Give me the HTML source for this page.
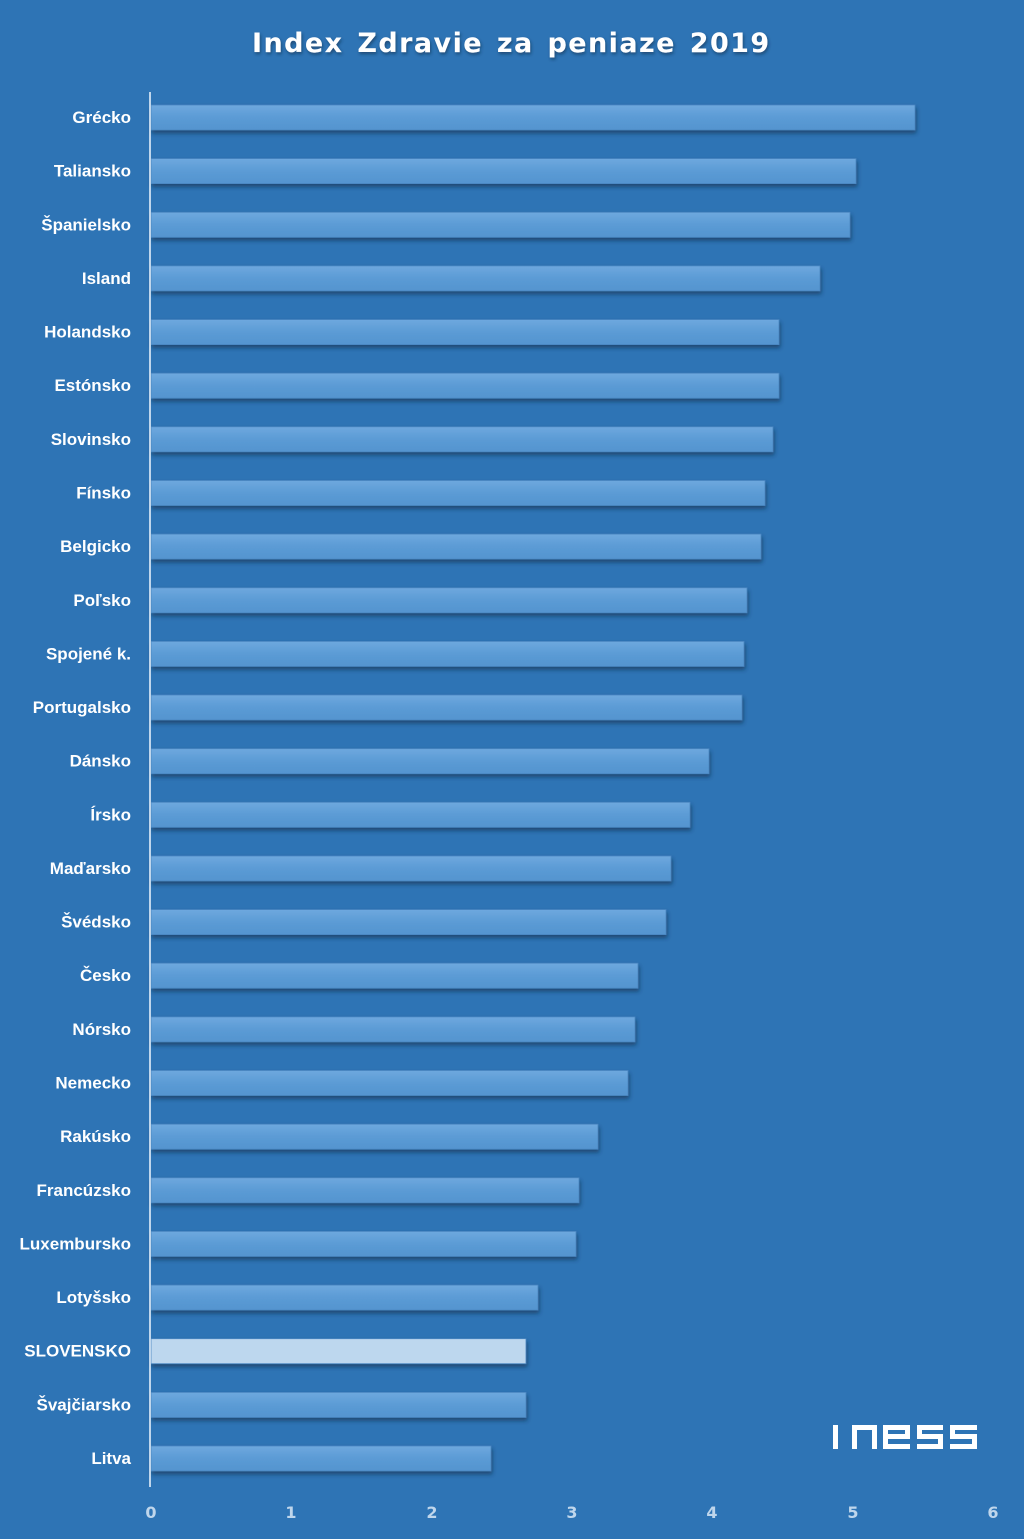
<!DOCTYPE html>
<html><head><meta charset="utf-8"><style>
html,body{margin:0;padding:0;background:#2E74B5;}
svg{display:block}
</style></head><body>
<svg width="1024" height="1539" viewBox="0 0 1024 1539" xmlns="http://www.w3.org/2000/svg">
<defs>
<linearGradient id="g" x1="0" y1="0" x2="0" y2="1">
<stop offset="0" stop-color="#6EA8DE"/><stop offset="0.5" stop-color="#5B9BD5"/><stop offset="1" stop-color="#5494CF"/>
</linearGradient>
<filter id="sh" x="-5%" y="-30%" width="110%" height="180%">
<feDropShadow dx="1" dy="3" stdDeviation="2" flood-color="#0d2a4a" flood-opacity="0.6"/>
</filter>
<filter id="ts"><feDropShadow dx="1" dy="2" stdDeviation="1.5" flood-color="#0d2a4a" flood-opacity="0.6"/></filter>
</defs>
<rect width="1024" height="1539" fill="#2E74B5"/>
<text x="511" y="52" text-anchor="middle" font-family="'DejaVu Sans','Liberation Sans',sans-serif" font-weight="bold" font-size="27" fill="#fff" letter-spacing="0.8" word-spacing="3" textLength="518" lengthAdjust="spacing" filter="url(#ts)">Index Zdravie za peniaze 2019</text>
<g id="bars" font-family="'Liberation Sans',sans-serif" font-weight="bold" font-size="17" fill="#fff" text-anchor="end"></g>
<line x1="150" y1="92" x2="150" y2="1487" stroke="#BFD6EC" stroke-width="2"/>
<g font-family="'DejaVu Sans','Liberation Sans',sans-serif" font-size="16" fill="#BFD6EC" text-anchor="middle" font-weight="bold">
<text x="151" y="1518">0</text><text x="291" y="1518">1</text><text x="432" y="1518">2</text><text x="572" y="1518">3</text><text x="712" y="1518">4</text><text x="853" y="1518">5</text><text x="993" y="1518">6</text>
</g>
<g fill="#fff">
<rect x="833" y="1425" width="5" height="24"/>
<path d="M852 1449 V1425 H877 V1449 H872 V1430 H857 V1449 Z"/>
<path d="M883 1425 H910 V1439 H888 V1444 H910 V1449 H883 Z M888 1430 V1434 H905 V1430 Z"/>
<path d="M917 1425 H943 V1430 H922 V1434 H943 V1449 H917 V1444 H938 V1439 H917 Z"/>
<path d="M950 1425 H977 V1430 H955 V1434 H977 V1449 H950 V1444 H972 V1439 H950 Z"/>
</g>
</svg>
<script>
var d=[["Grécko",915],["Taliansko",856],["Španielsko",850],["Island",820],["Holandsko",779],["Estónsko",779],["Slovinsko",773],["Fínsko",765],["Belgicko",761],["Poľsko",747],["Spojené k.",744],["Portugalsko",742],["Dánsko",709],["Írsko",690],["Maďarsko",671],["Švédsko",666],["Česko",638],["Nórsko",635],["Nemecko",628],["Rakúsko",598],["Francúzsko",579],["Luxembursko",576],["Lotyšsko",538],["SLOVENSKO",526],["Švajčiarsko",526],["Litva",491]];
var g=document.getElementById('bars'),s="";
d.forEach(function(r,i){var y=105+i*53.64;var f=r[0]=="SLOVENSKO"?"#BDD7EE":"url(#g)";
s+='<rect x="151" y="'+y.toFixed(1)+'" width="'+(r[1]-151)+'" height="25" fill="'+f+'" stroke="#4A86C0" stroke-width="0.8" filter="url(#sh)"/>';
s+='<text x="131" y="'+(y+18).toFixed(1)+'">'+r[0]+'</text>';});
g.innerHTML=s;
</script>
</body></html>
